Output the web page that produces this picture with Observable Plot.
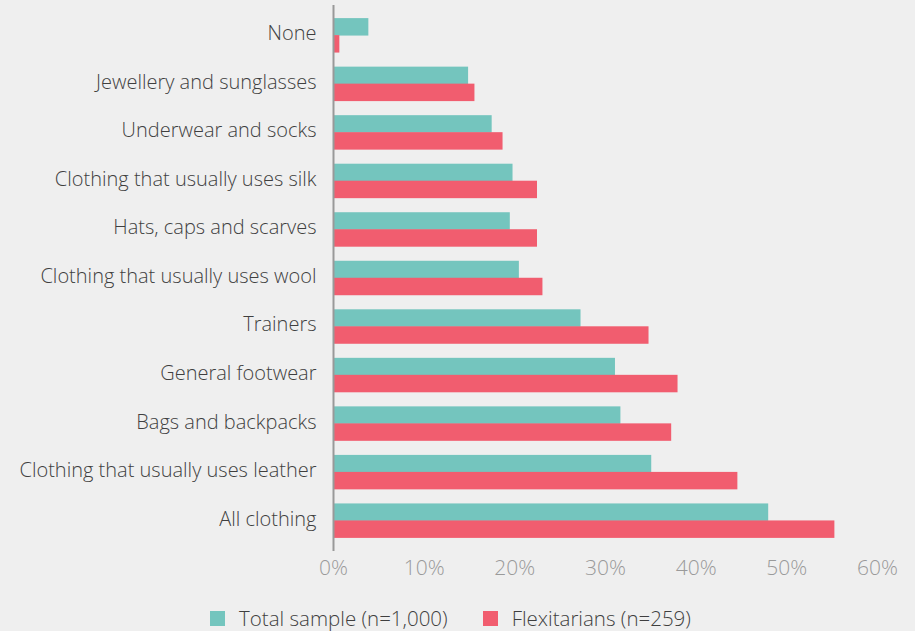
<!DOCTYPE html>
<html>
<head>
<meta charset="utf-8">
<script src="https://cdn.jsdelivr.net/npm/d3@7"></script>
<script src="https://cdn.jsdelivr.net/npm/@observablehq/plot@0.6"></script>
<style>
  html, body { margin: 0; padding: 0; background: #efefef; }
  body { width: 915px; height: 631px; overflow: hidden; font-family: "Open Sans", Lato, sans-serif; font-weight: 300; }
  #chart svg { display: block; background: #efefef; }
  #chart svg text { font-weight: 300; }
  .legend { display: flex; justify-content: center; align-items: center; gap: 35px; margin-top: 8px; padding-right: 14px; font-size: 20.5px; color: #3f3f3f; }
  .legend .item { display: flex; align-items: center; }
  .legend .sw { width: 15px; height: 15px; margin-right: 14px; display: inline-block; }
</style>
</head>
<body>
<div id="chart"></div>
<div class="legend" id="legend"></div>
<script>
const categories = [
  "None",
  "Jewellery and sunglasses",
  "Underwear and socks",
  "Clothing that usually uses silk",
  "Hats, caps and scarves",
  "Clothing that usually uses wool",
  "Trainers",
  "General footwear",
  "Bags and backpacks",
  "Clothing that usually uses leather",
  "All clothing"
];
const totalSample = [3.9, 14.9, 17.5, 19.8, 19.5, 20.5, 27.3, 31.1, 31.7, 35.1, 48.0];
const flexitarians = [0.7, 15.6, 18.7, 22.5, 22.5, 23.1, 34.8, 38.0, 37.3, 44.6, 55.3];
const seriesNames = ["Total sample (n=1,000)", "Flexitarians (n=259)"];
const seriesColors = ["#74c5be", "#f15d6f"];
const xTicks = [0, 10, 20, 30, 40, 50, 60];

const totalData = categories.map((c, i) => ({category: c, value: totalSample[i]}));
const flexData = categories.map((c, i) => ({category: c, value: flexitarians[i]}));

const chart = Plot.plot({
  width: 915,
  height: 596,
  marginTop: 5,
  marginBottom: 45,
  marginLeft: 333,
  marginRight: 38,
  style: {background: "#efefef", fontFamily: "'Open Sans', Lato, sans-serif", fontSize: "20px"},
  x: {domain: [0, 60], ticks: xTicks, tickFormat: d => d + "%"},
  y: {domain: categories, paddingInner: 0.29, paddingOuter: 0.27, round: false},
  marks: [
    Plot.barX(totalData, {x: "value", y: "category", fill: seriesColors[0], insetBottom: 17}),
    Plot.barX(flexData, {x: "value", y: "category", fill: seriesColors[1], insetTop: 17}),
    Plot.ruleX([0], {stroke: "#999", strokeWidth: 2}),
    Plot.axisX({ticks: xTicks, tickFormat: d => d + "%", tickSize: 0, tickPadding: 9, label: null, color: "#9a9a9a", fontSize: 21}),
    Plot.axisY({tickSize: 0, tickPadding: 17, dy: -2, label: null, color: "#3f3f3f", fontSize: 20})
  ]
});
document.getElementById("chart").append(chart);

const legend = document.getElementById("legend");
seriesNames.forEach((name, i) => {
  const item = document.createElement("span");
  item.className = "item";
  const sw = document.createElement("span");
  sw.className = "sw";
  sw.style.background = seriesColors[i];
  item.append(sw, document.createTextNode(name));
  legend.append(item);
});
</script>
</body>
</html>
